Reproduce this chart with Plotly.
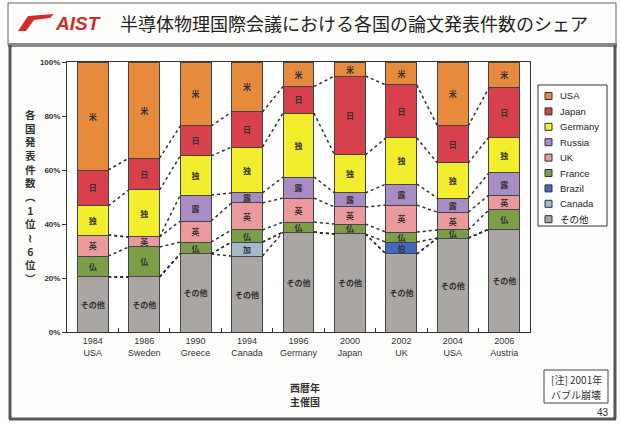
import plotly.graph_objects as go

# ---------------- data ----------------
years = ["1984", "1986", "1990", "1994", "1996", "2000", "2002", "2004", "2006"]
hosts = ["USA", "Sweden", "Greece", "Canada", "Germany", "Japan", "UK", "USA", "Austria"]

other_share   = [20.4, 20.4, 28.9, 28.1, 37.0, 36.3, 28.9, 34.8, 38.1]
canada_share  = [0, 0, 0, 5.2, 0, 0, 0, 0, 0]
brazil_share  = [0, 0, 0, 0, 0, 0, 4.4, 0, 0]
france_share  = [7.7, 11.1, 4.4, 4.5, 3.7, 3.7, 3.7, 3.0, 7.1]
uk_share      = [7.8, 3.7, 7.8, 10.0, 8.9, 6.3, 10.0, 6.6, 5.5]
russia_share  = [0, 0, 9.6, 3.7, 7.8, 5.2, 7.8, 5.2, 8.2]
germany_share = [10.8, 17.4, 14.5, 17.0, 23.7, 14.1, 17.1, 13.0, 13.3]
japan_share   = [13.3, 11.8, 11.1, 13.0, 9.8, 29.2, 19.6, 13.7, 18.2]
usa_share     = [40.0, 35.6, 23.7, 18.5, 9.1, 5.2, 8.5, 23.7, 9.6]

# stack order, bottom -> top
series_names  = ["その他", "Canada", "Brazil", "France", "UK", "Russia", "Germany", "Japan", "USA"]
series_labels = ["その他", "加", "伯", "仏", "英", "露", "独", "日", "米"]
series_values = [other_share, canada_share, brazil_share, france_share, uk_share,
                 russia_share, germany_share, japan_share, usa_share]
series_colors = ["#A9A6A4", "#A3BACA", "#4468C0", "#7C9E48", "#EA9A9C",
                 "#A88CC4", "#F2EE2E", "#D8404C", "#E88A3C"]

y_ticks = [0, 20, 40, 60, 80, 100]
y_tick_labels = ["0%", "20%", "40%", "60%", "80%", "100%"]

title_text = "半導体物理国際会議における各国の論文発表件数のシェア"
y_title_chars = ["各", "国", "発", "表", "件", "数", "︵", "1", "位", "≀", "6", "位", "︶"]
x_title_lines = ["西暦年", "主催国"]
note_lines = ["[注] 2001年", "バブル崩壊"]
page_no = "43"

# ---------------- geometry helpers ----------------
W, H = 621, 424
PL, PR, PT, PB = 67, 530, 62, 332
BAR_W = 0.6
JP = "Noto Sans CJK JP"
LAT = "Liberation Sans"


def xp(px):
    return (px - PL) / (PR - PL)


def yp(py):
    return (PB - py) / (PB - PT)


xs = list(range(len(years)))
fig = go.Figure()

for name, lab, vals, col in zip(series_names, series_labels, series_values, series_colors):
    fig.add_trace(go.Bar(
        x=xs, y=vals, name=name, width=BAR_W,
        marker=dict(color=col, line=dict(color="#444444", width=1)),
        text=[lab if v > 0 else "" for v in vals],
        textposition="inside", insidetextanchor="middle", textangle=0,
        textfont=dict(family=JP, size=8, color="#333333", weight="bold"),
        showlegend=False, hoverinfo="skip",
    ))

# series lines (dotted connectors between tops of each series)
cum = [0.0] * len(years)
lx, ly = [], []
for name, vals in zip(series_names, series_values):
    cum = [c + v for c, v in zip(cum, vals)]
    if name == "USA":
        continue
    for i in range(len(years) - 1):
        lx += [xs[i] + BAR_W / 2, xs[i + 1] - BAR_W / 2, None]
        ly += [cum[i], cum[i + 1], None]
fig.add_trace(go.Scatter(x=lx, y=ly, mode="lines",
                         line=dict(color="#333333", width=1.5, dash="dot"),
                         showlegend=False, hoverinfo="skip"))

shapes = []
annotations = []

# slide frame
shapes.append(dict(type="rect", xref="paper", yref="paper", x0=xp(8), x1=xp(616), y0=yp(3), y1=yp(45),
                   line=dict(color="#666666", width=1)))
shapes.append(dict(type="line", xref="paper", yref="paper", x0=xp(8), x1=xp(617), y0=yp(45), y1=yp(45),
                   line=dict(color="#888888", width=4)))
shapes.append(dict(type="line", xref="paper", yref="paper", x0=xp(10), x1=xp(10), y0=yp(45), y1=yp(419),
                   line=dict(color="#555555", width=3)))
shapes.append(dict(type="line", xref="paper", yref="paper", x0=xp(615), x1=xp(615), y0=yp(45), y1=yp(419),
                   line=dict(color="#555555", width=3)))
shapes.append(dict(type="line", xref="paper", yref="paper", x0=xp(9), x1=xp(616), y0=yp(419), y1=yp(419),
                   line=dict(color="#555555", width=3)))

# AIST swoosh logo
pts = [(18, 31), (28, 16), (54, 14), (50, 18), (34, 20), (26, 31)]
path = "M " + " L ".join(f"{xp(a):.4f},{yp(b):.4f}" for a, b in pts) + " Z"
shapes.append(dict(type="path", xref="paper", yref="paper", path=path,
                   fillcolor="#D42A2A", line=dict(color="#D42A2A", width=0)))
annotations.append(dict(xref="paper", yref="paper", x=xp(53), y=yp(23), xanchor="left", yanchor="middle",
                        text="<b><i>AIST</i></b>", showarrow=False,
                        font=dict(family=LAT, size=19, color="#D42A2A")))
annotations.append(dict(xref="paper", yref="paper", x=xp(118), y=yp(23), xanchor="left", yanchor="middle",
                        text=title_text, showarrow=False,
                        font=dict(family=JP, size=18, color="#222222")))

# y-axis title (vertical)
annotations.append(dict(xref="paper", yref="paper", x=xp(30), y=yp(196), xanchor="center", yanchor="middle",
                        text="<br>".join(y_title_chars), showarrow=False,
                        font=dict(family=JP, size=10.5, color="#333333", weight="bold")))
# x-axis title (one annotation per line)
for j, line in enumerate(x_title_lines):
    annotations.append(dict(xref="paper", yref="paper", x=xp(305), y=yp(387 + j * 14), xanchor="center",
                            yanchor="middle", text=line, showarrow=False,
                            font=dict(family=JP, size=10, color="#333333", weight="bold")))
# note box
shapes.append(dict(type="rect", xref="paper", yref="paper", x0=xp(544), x1=xp(608), y0=yp(370), y1=yp(403),
                   line=dict(color="#444444", width=1), fillcolor="white"))
for j, line in enumerate(note_lines):
    annotations.append(dict(xref="paper", yref="paper", x=xp(576), y=yp(379 + j * 15), xanchor="center",
                            yanchor="middle", text=line, showarrow=False,
                            font=dict(family=JP, size=10, color="#333333")))
# page number
annotations.append(dict(xref="paper", yref="paper", x=xp(611), y=yp(412), xanchor="right", yanchor="middle",
                        text=page_no, showarrow=False, font=dict(family=LAT, size=10, color="#333333")))

# manual legend
LX0, LX1, LY0, LY1 = 538, 607, 85, 226
shapes.append(dict(type="rect", xref="paper", yref="paper", x0=xp(LX0), x1=xp(LX1), y0=yp(LY0), y1=yp(LY1),
                   line=dict(color="#333333", width=1), fillcolor="white"))
legend_order = list(range(len(series_names)))[::-1]
for k, idx in enumerate(legend_order):
    cy = 96 + k * 15.4
    shapes.append(dict(type="rect", xref="paper", yref="paper",
                       x0=xp(545), x1=xp(552), y0=yp(cy - 3.5), y1=yp(cy + 3.5),
                       fillcolor=series_colors[idx], line=dict(color="#333333", width=1)))
    fam = JP if series_names[idx] == "その他" else LAT
    annotations.append(dict(xref="paper", yref="paper", x=xp(558), y=yp(cy), xanchor="left", yanchor="middle",
                            text=series_names[idx], showarrow=False,
                            font=dict(family=fam, size=9.5, color="#222222")))

fig.update_layout(
    width=W, height=H,
    margin=dict(l=PL, r=W - PR, t=PT, b=H - PB, pad=0),
    barmode="stack", bargap=0.4,
    paper_bgcolor="#FDFDFB", plot_bgcolor="white",
    showlegend=False,
    uniformtext=dict(minsize=8, mode="show"),
    shapes=shapes, annotations=annotations,
    xaxis=dict(range=[-0.5, len(years) - 0.5], tickvals=xs,
               ticktext=[f"{y}<br>{h}" for y, h in zip(years, hosts)],
               ticks="", showgrid=False, zeroline=False,
               showline=True, mirror=True, linecolor="#333333", linewidth=1,
               tickfont=dict(family=LAT, size=9, color="#333333"),
               minor=dict(tickvals=[i + 0.5 for i in range(len(years) - 1)], ticks="inside",
                          ticklen=4, tickcolor="#333333", showgrid=False)),
    yaxis=dict(range=[0, 100], tickvals=y_ticks, ticktext=y_tick_labels,
               ticks="outside", ticklen=4, tickcolor="#333333",
               showgrid=False, zeroline=False,
               showline=True, mirror=True, linecolor="#333333", linewidth=1,
               tickfont=dict(family=LAT, size=8, color="#333333", weight="bold")),
)

fig.write_html("out.html", config={"displayModeBar": False})

# remove the browser's default page margin so the figure sits at the window origin
with open("out.html", "r", encoding="utf-8") as f:
    html = f.read()
html = html.replace("<head>", "<head><style>html,body{margin:0;padding:0;overflow:hidden;}</style>", 1)
with open("out.html", "w", encoding="utf-8") as f:
    f.write(html)
